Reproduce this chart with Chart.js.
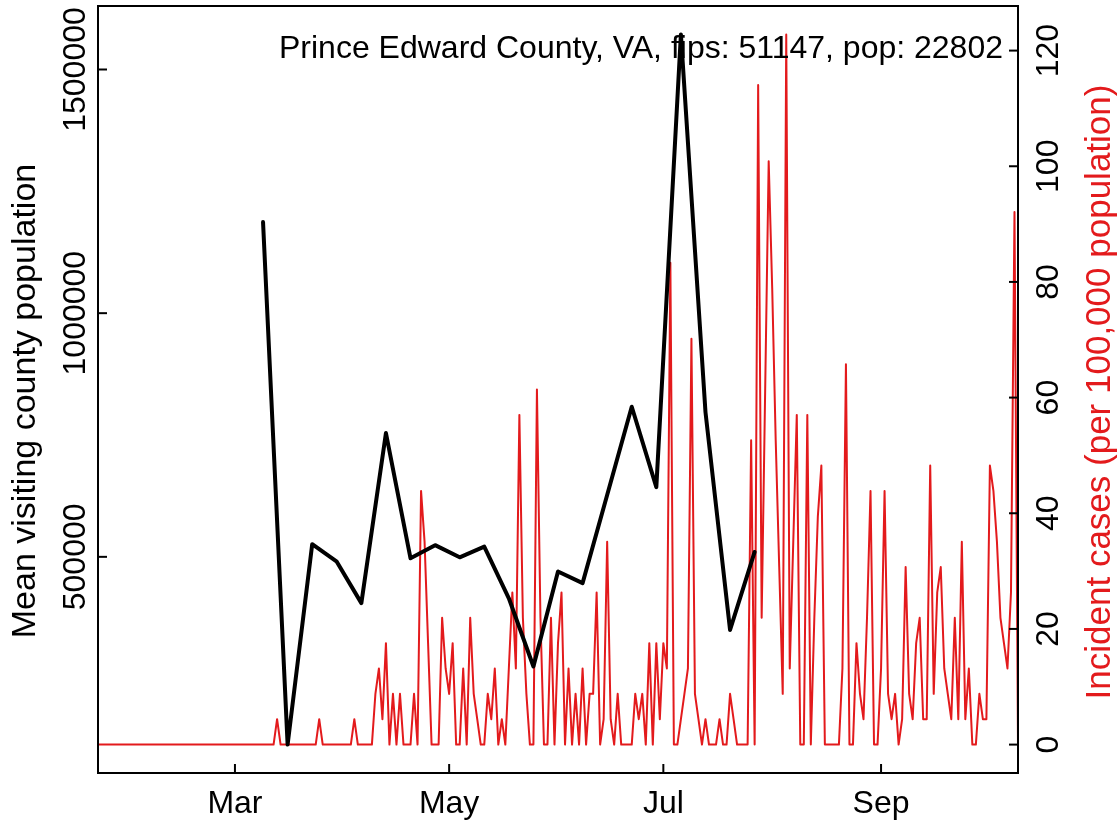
<!DOCTYPE html>
<html>
<head>
<meta charset="utf-8">
<script src="https://cdn.jsdelivr.net/npm/chart.js@4.4.1/dist/chart.umd.min.js"></script>
<style>
  html, body { margin: 0; padding: 0; background: #fff; }
  #wrap { width: 1119px; height: 822px; }
</style>
</head>
<body>
<div id="wrap"><canvas id="visitCanvas" width="1119" height="822"></canvas></div>
<script>
// x values are day numbers of 2020, Jan 1 = day 0
const monthTicks = [60, 121, 182, 244];
const monthLabels = ["Mar", "May", "Jul", "Sep"];

const visitTicks = [500000, 1000000, 1500000];
const visitTickLabels = ["500000", "1000000", "1500000"];
const caseTicks = [0, 20, 40, 60, 80, 100, 120];
const caseTickLabels = ["0", "20", "40", "60", "80", "100", "120"];

const countyTitle = "Prince Edward County, VA, fips: 51147, pop: 22802";
const visitAxisTitle = "Mean visiting county population";
const caseAxisTitle = "Incident cases (per 100,000 population)";

// weekly mean visiting population (black)
const visitDays = [68, 75, 82, 89, 96, 103, 110, 117, 124, 131, 138,
  145, 152, 159, 166, 173, 180, 187, 194, 201, 208];
const visitMeans = [1187000, 114750, 526000, 490000, 405000, 754000, 497000,
  524000, 499000, 521000, 415000, 275000, 470000, 446000, 627000, 808000,
  643000, 1572000, 797000, 350000, 510000];

// daily incident cases per 100k (red), first day = Jan 22
const caseFirstDay = 21;
const casesJan = [0,0,0,0,0,0,0,0,0,0];
const casesFeb = [0,0,0,0,0,0,0,0,0,0,0,0,0,0,0,0,0,0,0,0,0,0,0,0,0,0,0,0,0];
const casesMar = [0,0,0,0,0,0,0,0,0,0,0,0,4.39,0,0,0,0,0,0,0,0,0,0,0,4.39,0,0,0,0,0,0];
const casesApr = [0,0,0,4.39,0,0,0,0,0,8.77,13.16,4.39,17.54,0,8.77,0,8.77,0,0,0,
  8.77,0,43.86,35.09,17.54,0,0,0,21.93,13.16];
const casesMay = [8.77,17.54,0,0,13.16,0,21.93,8.77,4.39,0,0,8.77,4.39,13.16,0,4.39,
  0,13.16,26.31,13.16,57.01,21.93,8.77,0,0,61.40,21.93,0,0,21.93,0];
const casesJun = [17.54,26.31,0,13.16,0,8.77,0,13.16,0,8.77,8.77,26.31,0,4.39,35.09,
  4.39,0,8.77,0,0,0,0,8.77,4.39,8.77,0,17.54,0,17.54,4.39];
const casesJul = [17.54,13.16,83.33,0,0,4.39,8.77,13.16,70.17,8.77,4.39,0,4.39,0,0,
  0,4.39,0,0,8.77,4.39,0,0,0,0,52.63,0,114.03,21.93,61.40,100.87];
const casesAug = [78.94,52.63,30.70,8.77,122.80,13.16,35.09,57.01,0,0,57.01,0,21.93,
  39.47,48.24,0,0,0,0,0,13.16,65.78,0,0,17.54,8.77,4.39,21.93,43.86,0,0];
const casesSep = [13.16,43.86,8.77,4.39,8.77,0,4.39,30.70,8.77,4.39,17.54,21.93,4.39,
  4.39,48.24,8.77,26.31,30.70,13.16,8.77,4.39,21.93,4.39,35.09,4.39,13.16,0,0,8.77,4.39];
const casesOct = [4.39,48.24,43.86,35.09,21.93,17.54,13.16,26.31,92.10,0];

const caseRates = [].concat(casesJan, casesFeb, casesMar, casesApr, casesMay,
  casesJun, casesJul, casesAug, casesSep, casesOct);

const visitPoints = visitDays.map((d, i) => ({ x: d, y: visitMeans[i] }));
const casePoints = caseRates.map((v, i) => ({ x: caseFirstDay + i, y: v }));

const RED = "#e31a1c";
const FAMILY = "'Liberation Sans', Arial, Helvetica, sans-serif";
const TICK = 9;

const rFrame = {
  id: "rFrame",
  afterDraw(chart) {
    const ctx = chart.ctx, a = chart.chartArea;
    const sx = chart.scales.x, sl = chart.scales.yVisit, sr = chart.scales.yCases;
    ctx.save();
    ctx.strokeStyle = "#000";
    ctx.lineWidth = 2;
    ctx.strokeRect(a.left, a.top, a.right - a.left, a.bottom - a.top);
    ctx.font = "32px " + FAMILY;
    ctx.fillStyle = "#000";

    // bottom axis
    ctx.textAlign = "center";
    ctx.textBaseline = "alphabetic";
    sx.ticks.forEach((t, i) => {
      const px = sx.getPixelForValue(t.value);
      ctx.beginPath(); ctx.moveTo(px, a.bottom); ctx.lineTo(px, a.bottom - TICK); ctx.stroke();
      ctx.fillText(monthLabels[i], px, a.bottom + 40);
    });

    // left axis
    sl.ticks.forEach((t, i) => {
      const py = sl.getPixelForValue(t.value);
      ctx.beginPath(); ctx.moveTo(a.left, py); ctx.lineTo(a.left + TICK, py); ctx.stroke();
      ctx.save();
      ctx.translate(a.left - 13, py);
      ctx.rotate(-Math.PI / 2);
      ctx.fillText(visitTickLabels[i], 0, 0);
      ctx.restore();
    });

    // right axis
    sr.ticks.forEach((t, i) => {
      const py = sr.getPixelForValue(t.value);
      ctx.beginPath(); ctx.moveTo(a.right, py); ctx.lineTo(a.right - TICK, py); ctx.stroke();
      ctx.save();
      ctx.translate(a.right + 40, py);
      ctx.rotate(-Math.PI / 2);
      ctx.fillText(caseTickLabels[i], 0, 0);
      ctx.restore();
    });

    // axis titles
    ctx.font = "34px " + FAMILY;
    ctx.save();
    ctx.translate(35, 401);
    ctx.rotate(-Math.PI / 2);
    ctx.fillText(visitAxisTitle, 0, 0);
    ctx.restore();

    ctx.save();
    ctx.fillStyle = RED;
    ctx.font = "35px " + FAMILY;
    ctx.translate(1110, 392);
    ctx.rotate(-Math.PI / 2);
    ctx.fillText(caseAxisTitle, 0, 0);
    ctx.restore();

    // county label
    ctx.font = "32px " + FAMILY;
    ctx.textAlign = "right";
    ctx.fillText(countyTitle, a.right - 15, a.top + 52);
    ctx.restore();
  }
};

new Chart(document.getElementById("visitCanvas"), {
  type: "line",
  data: {
    datasets: [{
      data: visitPoints,
      yAxisID: "yVisit",
      borderColor: "#000",
      borderWidth: 4,
      pointRadius: 0,
      fill: false,
      tension: 0,
      borderJoinStyle: "round",
      borderCapStyle: "round"
    }, {
      data: casePoints,
      yAxisID: "yCases",
      borderColor: RED,
      borderWidth: 2,
      pointRadius: 0,
      fill: false,
      tension: 0,
      borderJoinStyle: "round"
    }]
  },
  options: {
    responsive: false,
    animation: false,
    devicePixelRatio: 1,
    layout: { padding: { top: 6, left: 0, right: 0, bottom: 0 } },
    plugins: { legend: { display: false }, tooltip: { enabled: false } },
    scales: {
      x: {
        type: "linear", min: 21, max: 283,
        afterBuildTicks: s => { s.ticks = monthTicks.map(v => ({ value: v })); },
        afterFit: s => { s.height = 49; },
        grid: { display: false }, border: { display: false }, ticks: { display: false }
      },
      yVisit: {
        type: "linear", position: "left", min: 56460, max: 1630290,
        afterBuildTicks: s => { s.ticks = visitTicks.map(v => ({ value: v })); },
        afterFit: s => { s.width = 98; },
        grid: { display: false }, border: { display: false }, ticks: { display: false }
      },
      yCases: {
        type: "linear", position: "right", min: -4.912, max: 127.71,
        afterBuildTicks: s => { s.ticks = caseTicks.map(v => ({ value: v })); },
        afterFit: s => { s.width = 101; },
        grid: { display: false }, border: { display: false }, ticks: { display: false }
      }
    }
  },
  plugins: [rFrame]
});
</script>
</body>
</html>
